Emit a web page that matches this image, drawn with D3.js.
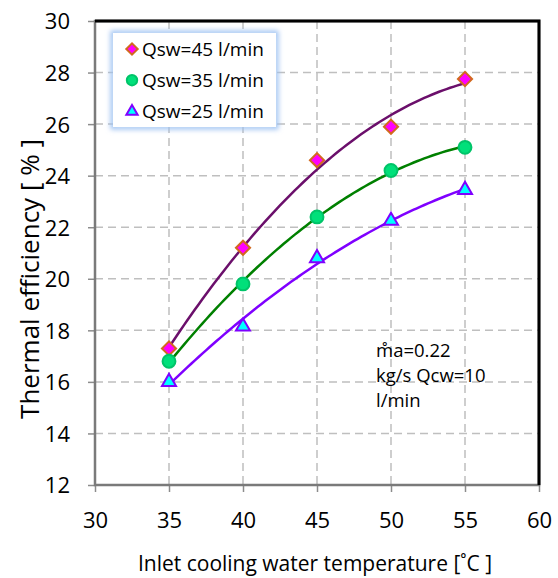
<!DOCTYPE html>
<html>
<head>
<meta charset="utf-8">
<script src="https://cdn.jsdelivr.net/npm/d3@7"></script>
<style>
  body { margin: 0; background: #fff; }
  text { font-family: "Open Sans", "Noto Sans", sans-serif; fill: #000; }
</style>
</head>
<body>
<div id="chart"></div>
<script>
// Data
const temps = [35, 40, 45, 50, 55];
const q45 = [17.3, 21.2, 24.6, 25.9, 27.75];
const q35 = [16.8, 19.8, 22.4, 24.2, 25.1];
const q25 = [16.0, 18.15, 20.8, 22.25, 23.45];
const seriesNames = ["Qsw=45 l/min", "Qsw=35 l/min", "Qsw=25 l/min"];
const xTicks = [30, 35, 40, 45, 50, 55, 60];
const yTicks = [12, 14, 16, 18, 20, 22, 24, 26, 28, 30];
const noteLines = ["m\u030Aa=0.22", "kg/s Qcw=10", "l/min"];

const W = 558, H = 578;
const margin = { top: 21, right: 19, bottom: 93, left: 95 };
const width = W - margin.left - margin.right;
const height = H - margin.top - margin.bottom;

const svg = d3.select("#chart").append("svg")
    .attr("width", W)
    .attr("height", H);

const defs = svg.append("defs");
const glow = defs.append("filter").attr("id", "glow")
    .attr("x", "-20%").attr("y", "-20%").attr("width", "140%").attr("height", "140%");
glow.append("feGaussianBlur").attr("stdDeviation", 2.5);

const g = svg.append("g")
    .attr("transform", `translate(${margin.left}, ${margin.top})`);

const x = d3.scaleLinear().domain([30, 60]).range([0, width]);
const y = d3.scaleLinear().domain([12, 30]).range([height, 0]);

// Gridlines
g.append("g").selectAll("line")
    .data(xTicks.slice(1, -1))
    .join("line")
    .attr("x1", d => x(d)).attr("x2", d => x(d))
    .attr("y1", 0).attr("y2", height)
    .attr("stroke", "#bfbfbf").attr("stroke-width", 1.5)
    .attr("stroke-dasharray", "8,5");

g.append("g").selectAll("line")
    .data(yTicks.slice(1, -1))
    .join("line")
    .attr("x1", 0).attr("x2", width)
    .attr("y1", d => y(d)).attr("y2", d => y(d))
    .attr("stroke", "#bfbfbf").attr("stroke-width", 1.5)
    .attr("stroke-dasharray", "8,5");

// Axes
const xAxis = g.append("g")
    .attr("transform", `translate(0, ${height})`)
    .call(d3.axisBottom(x).tickValues(xTicks).tickSize(7).tickPadding(20));
const yAxis = g.append("g")
    .call(d3.axisLeft(y).tickValues(yTicks).tickSize(7).tickPadding(18));
[xAxis, yAxis].forEach(a => {
    a.select(".domain").remove();
    a.selectAll(".tick line").attr("stroke", "#8c8c8c").attr("stroke-width", 1.5);
    a.selectAll(".tick text")
        .style("font-family", "'Open Sans', sans-serif")
        .style("font-size", "22px")
        .attr("fill", "#000");
});
yAxis.selectAll(".tick text").attr("dy", "0.36em");

// Plot frame
g.append("rect")
    .attr("x", 0).attr("y", 0)
    .attr("width", width).attr("height", height)
    .attr("fill", "none")
    .attr("stroke", "#7a7a7a").attr("stroke-width", 2.5);
g.append("path")
    .attr("d", `M0,0H${width}V${height}`)
    .attr("fill", "none")
    .attr("stroke", "#000").attr("stroke-width", 3);

// Quadratic least-squares trendline
function quadFit(xs, ys) {
    let s = [0, 0, 0, 0, 0], t = [0, 0, 0];
    xs.forEach((xv, i) => {
        for (let k = 0; k < 5; k++) s[k] += Math.pow(xv, k);
        for (let k = 0; k < 3; k++) t[k] += ys[i] * Math.pow(xv, k);
    });
    const A = [[s[0], s[1], s[2], t[0]], [s[1], s[2], s[3], t[1]], [s[2], s[3], s[4], t[2]]];
    for (let i = 0; i < 3; i++) {
        for (let j = i + 1; j < 3; j++) {
            const f = A[j][i] / A[i][i];
            for (let k = i; k < 4; k++) A[j][k] -= f * A[i][k];
        }
    }
    const c = [0, 0, 0];
    for (let i = 2; i >= 0; i--) {
        let v = A[i][3];
        for (let k = i + 1; k < 3; k++) v -= A[i][k] * c[k];
        c[i] = v / A[i][i];
    }
    return xv => c[0] + c[1] * xv + c[2] * xv * xv;
}

const series = [
    { name: seriesNames[0], values: q45, line: "#6b0f6b", fill: "#ff00ff", stroke: "#d2691e", symbol: d3.symbolSquare, rot: 45, size: 100 },
    { name: seriesNames[1], values: q35, line: "#008000", fill: "#00e07a", stroke: "#00c469", symbol: d3.symbolCircle, rot: 0, size: 130 },
    { name: seriesNames[2], values: q25, line: "#7f00ff", fill: "#00ffff", stroke: "#7f00ff", symbol: d3.symbolTriangle, rot: 0, size: 85 }
];

const line = d3.line().x(d => x(d[0])).y(d => y(d[1]));
const samples = d3.range(35, 55.001, 0.25);

series.forEach(s => {
    const f = quadFit(temps, s.values);
    g.append("path")
        .datum(samples.map(t => [t, f(t)]))
        .attr("d", line)
        .attr("fill", "none")
        .attr("stroke", s.line)
        .attr("stroke-width", 2.5);
});

series.forEach(s => {
    g.append("g").selectAll("path")
        .data(temps.map((t, i) => [t, s.values[i]]))
        .join("path")
        .attr("transform", d => `translate(${x(d[0])}, ${y(d[1])}) rotate(${s.rot})`)
        .attr("d", d3.symbol().type(s.symbol).size(s.size))
        .attr("fill", s.fill)
        .attr("stroke", s.stroke)
        .attr("stroke-width", 2);
});

// Legend
const legend = svg.append("g").attr("transform", "translate(113, 33)");
legend.append("rect")
    .attr("x", 0).attr("y", 0).attr("width", 163).attr("height", 94)
    .attr("fill", "none")
    .attr("stroke", "#9ec2f2").attr("stroke-width", 5)
    .attr("filter", "url(#glow)");
legend.append("rect")
    .attr("x", 0).attr("y", 0).attr("width", 163).attr("height", 94)
    .attr("fill", "#fff");

series.forEach((s, i) => {
    const cy = 16 + i * 31.2;
    legend.append("path")
        .attr("transform", `translate(19, ${cy}) rotate(${s.rot})`)
        .attr("d", d3.symbol().type(s.symbol).size(s.size * 0.65))
        .attr("fill", s.fill)
        .attr("stroke", s.stroke)
        .attr("stroke-width", 2);
    legend.append("text")
        .attr("x", 29).attr("y", cy)
        .attr("dy", "0.36em")
        .style("font-size", "19px")
        .text(s.name);
});

// Annotation
svg.append("g").selectAll("text")
    .data(noteLines)
    .join("text")
    .attr("x", 376)
    .attr("y", (d, i) => 357 + i * 25)
    .style("font-size", "18.5px")
    .text(d => d);

// Axis titles
svg.append("text")
    .attr("text-anchor", "middle")
    .attr("x", 315)
    .attr("y", 571)
    .style("font-size", "21px")
    .text("Inlet cooling water temperature [\u02DAC ]");

svg.append("text")
    .attr("text-anchor", "middle")
    .attr("transform", "rotate(-90)")
    .attr("x", -279)
    .attr("y", 39)
    .style("font-size", "26px")
    .text("Thermal efficiency [ % ]");
</script>
</body>
</html>
